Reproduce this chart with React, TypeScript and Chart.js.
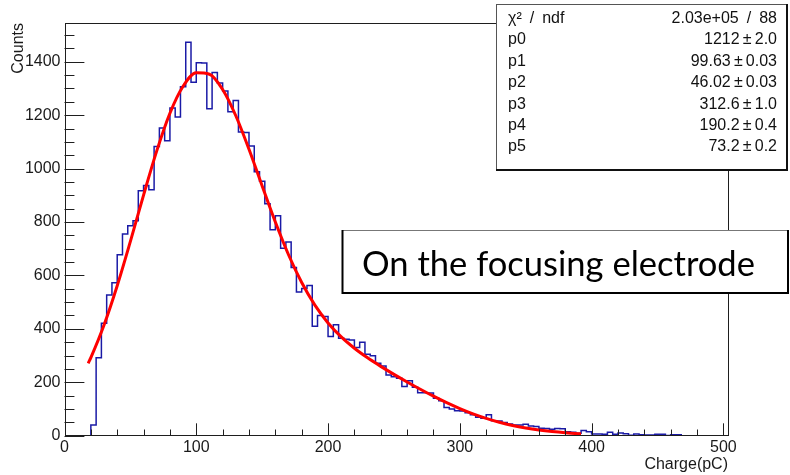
import { useEffect, useRef } from 'react';
import { Chart, registerables } from 'chart.js';

Chart.register(...registerables);

// Histogram binning: 4 pC wide bins, first filled bin starts at 20 pC
const BIN_START = 20;
const BIN_WIDTH = 4;

// Counts per bin
const counts = [
  40, 292, 421, 527, 573, 677, 755, 786, 805, 917,
  937, 921, 1083, 1152, 1104, 1227, 1193, 1306, 1473, 1323,
  1396, 1395, 1224, 1360, 1320, 1290, 1213, 1255, 1137, 1135,
  1085, 988, 953, 868, 771, 823, 702, 725, 630, 538,
  551, 562, 410, 450, 446, 371, 415, 365, 361, 358,
  330, 350, 305, 299, 271, 261, 227, 221, 215, 184,
  206, 181, 161, 161, 160, 140, 131, 106, 100, 93,
  92, 86, 78, 69, 65, 78, 56, 55, 49, 44,
  40, 40, 43, 36, 34, 28, 27, 24, 27, 26,
  15, 13, 9, 19, 15, 6, 6, 5, 13, 5,
  10, 7, 2, 6, 4, 3, 3, 5, 5, 1,
  4, 4,
];

// Fitted curve, sampled along the fit range
const fitX = [
  18, 20, 30, 40, 50, 60, 70, 80, 90, 100, 110, 120, 130, 140, 150, 160, 170, 180, 190, 200,
  210, 220, 230, 240, 250, 260, 270, 280, 290, 300, 310, 320, 330, 340, 350, 360, 370, 380, 390, 392,
];
const fitY = [
  271.0, 292.2, 414.4, 561.6, 727.5, 900.8, 1066.3, 1207.3, 1308.2, 1358.3, 1353.1, 1296.2, 1197.7, 1072.0, 934.7, 799.8, 677.4, 573.3, 488.8, 422.2,
  369.7, 327.4, 291.5, 259.6, 229.7, 201.2, 173.9, 147.9, 123.6, 101.6, 81.9, 64.9, 50.5, 38.5, 28.9, 21.2, 15.3, 10.8, 7.5, 7.0,
];

// Axis ranges, labelled ticks and minor tick spacing
const X_MIN = 0;
const X_MAX = 503.5;
const Y_MIN = 0;
const Y_MAX = 1545;
const xTickValues = [0, 100, 200, 300, 400, 500];
const yTickValues = [0, 200, 400, 600, 800, 1000, 1200, 1400];
const X_MINOR = 20;
const Y_MINOR = 50;

// Fit statistics panel
const statNames = ['χ² / ndf', 'p0', 'p1', 'p2', 'p3', 'p4', 'p5'];
const statValues = [
  '2.03e+05 / 88',
  '1212\u2009±\u20092.0',
  '99.63\u2009±\u20090.03',
  '46.02\u2009±\u20090.03',
  '312.6\u2009±\u20091.0',
  '190.2\u2009±\u20090.4',
  '73.2\u2009±\u20090.2',
];

const caption = 'On the focusing electrode';

const FONT = "'Liberation Sans', Arial, Helvetica, sans-serif";

// Draws text whose plain spaces are rendered with a wider gap
function drawSpaced(ctx: CanvasRenderingContext2D, text: string, x: number, y: number, align: 'left' | 'right', gap: number) {
  const words = text.split(' ');
  const widths = words.map((w) => ctx.measureText(w).width);
  const total = widths.reduce((s, w) => s + w, 0) + gap * (words.length - 1);
  let cx = align === 'left' ? x : x - total;
  ctx.textAlign = 'left';
  words.forEach((w, i) => {
    ctx.fillText(w, cx, y);
    cx += widths[i] + gap;
  });
}

const overlayPlugin = {
  id: 'rootFrame',
  afterDatasetsDraw(chart: any) {
    const { ctx, chartArea: a, scales } = chart;
    const xs = scales.x;
    const ys = scales.y;
    const fw = a.right - a.left;
    const fh = a.bottom - a.top;
    ctx.save();
    ctx.strokeStyle = '#1e1e1e';
    ctx.lineWidth = 1;
    ctx.beginPath();
    // inward ticks on the left axis (long ones at labelled values)
    for (let v = Y_MIN; v <= Y_MAX + 1e-6; v += Y_MINOR) {
      const py = Math.round(ys.getPixelForValue(v)) + 0.5;
      const len = yTickValues.includes(v) ? fw * 0.03 : fw * 0.015;
      ctx.moveTo(a.left, py);
      ctx.lineTo(a.left + len, py);
    }
    // inward ticks on the bottom axis
    for (let v = X_MIN; v <= X_MAX + 1e-6; v += X_MINOR) {
      const px = Math.round(xs.getPixelForValue(v)) + 0.5;
      const len = xTickValues.includes(v) ? fh * 0.03 : fh * 0.015;
      ctx.moveTo(px, a.bottom);
      ctx.lineTo(px, a.bottom - len);
    }
    ctx.stroke();
    // frame
    ctx.strokeRect(Math.round(a.left) + 0.5, Math.round(a.top) + 0.5, Math.round(fw) - 1, Math.round(fh) - 1);
    ctx.restore();
  },
  afterDraw(chart: any) {
    const { ctx } = chart;
    ctx.save();

    // statistics box
    const sx = 496, sy = 4, sw = 291, sh = 166;
    ctx.fillStyle = '#ffffff';
    ctx.fillRect(sx, sy, sw, sh);
    ctx.strokeStyle = '#555';
    ctx.lineWidth = 1;
    ctx.strokeRect(sx + 0.5, sy + 0.5, sw - 1, sh - 1);
    ctx.strokeStyle = '#111';
    ctx.lineWidth = 2;
    ctx.beginPath();
    ctx.moveTo(sx, sy + sh);
    ctx.lineTo(sx + sw, sy + sh);
    ctx.lineTo(sx + sw, sy);
    ctx.stroke();

    ctx.fillStyle = '#111';
    ctx.font = `16px ${FONT}`;
    ctx.textBaseline = 'middle';
    statNames.forEach((name, i) => {
      const cy = 18.5 + i * 21.4;
      drawSpaced(ctx, name, 508, cy, 'left', 8);
      drawSpaced(ctx, statValues[i], 777, cy, 'right', 8);
    });

    // caption box
    const bx = 342, by = 230, bw = 446, bh = 63;
    ctx.fillStyle = '#ffffff';
    ctx.fillRect(bx, by, bw, bh);
    ctx.strokeStyle = '#777';
    ctx.lineWidth = 1;
    ctx.strokeRect(bx + 0.5, by + 0.5, bw - 1, bh - 1);
    ctx.strokeStyle = '#000';
    ctx.lineWidth = 2;
    ctx.beginPath();
    ctx.moveTo(bx + 0.5, by);
    ctx.lineTo(bx + 0.5, by + bh);
    ctx.lineTo(bx + bw, by + bh);
    ctx.lineTo(bx + bw, by);
    ctx.stroke();

    ctx.fillStyle = '#000';
    ctx.textAlign = 'left';
    ctx.textBaseline = 'alphabetic';
    ctx.font = `30px Lato, 'Open Sans', sans-serif`;
    const w30 = ctx.measureText(caption).width;
    const size = (30 * 393) / w30;
    ctx.font = `${size.toFixed(2)}px Lato, 'Open Sans', sans-serif`;
    ctx.fillText(caption, 362, 275.5);

    ctx.restore();
  },
};

export default function App() {
  const canvasRef = useRef<HTMLCanvasElement | null>(null);

  useEffect(() => {
    const canvas = canvasRef.current;
    if (!canvas) return;

    const histPoints: { x: number; y: number }[] = [{ x: BIN_START, y: 0 }];
    counts.forEach((c, i) => histPoints.push({ x: BIN_START + i * BIN_WIDTH, y: c }));
    histPoints.push({ x: BIN_START + counts.length * BIN_WIDTH, y: 0 });

    const fitPoints = fitX.map((x, i) => ({ x, y: fitY[i] }));

    const chart = new Chart(canvas, {
      type: 'line',
      data: {
        datasets: [
          {
            label: 'fit',
            data: fitPoints,
            borderColor: '#ff0000',
            borderWidth: 3,
            pointRadius: 0,
            fill: false,
            cubicInterpolationMode: 'monotone',
          },
          {
            label: 'Charge',
            data: histPoints,
            borderColor: '#1a1aa6',
            borderWidth: 1.5,
            pointRadius: 0,
            fill: false,
            stepped: 'before',
            borderJoinStyle: 'miter',
          },
        ],
      },
      options: {
        animation: false,
        responsive: false,
        maintainAspectRatio: false,
        events: [],
        layout: { padding: { top: 23, right: 62, left: 0, bottom: 0 } },
        plugins: {
          legend: { display: false },
          tooltip: { enabled: false },
        },
        scales: {
          x: {
            type: 'linear',
            min: X_MIN,
            max: X_MAX,
            grid: { display: false, drawTicks: false },
            border: { display: false },
            afterBuildTicks: (scale: any) => {
              scale.ticks = xTickValues.map((value) => ({ value }));
            },
            ticks: {
              padding: 2,
              maxRotation: 0,
              autoSkip: false,
              color: '#1a1a1a',
              font: { family: FONT, size: 16 },
              callback: (v: any) => String(Math.round(Number(v))),
            },
            title: {
              display: true,
              text: 'Charge(pC)',
              align: 'end',
              color: '#1a1a1a',
              font: { family: FONT, size: 16 },
              padding: { top: 0, bottom: 1 },
            },
            afterFit: (scale: any) => {
              scale.height = 39.3;
            },
          },
          y: {
            type: 'linear',
            min: Y_MIN,
            max: Y_MAX,
            grid: { display: false, drawTicks: false },
            border: { display: false },
            afterBuildTicks: (scale: any) => {
              scale.ticks = yTickValues.map((value) => ({ value }));
            },
            ticks: {
              padding: 4,
              autoSkip: false,
              color: '#1a1a1a',
              font: { family: FONT, size: 16 },
              callback: (v: any) => String(Math.round(Number(v))),
            },
            title: {
              display: true,
              text: 'Counts',
              align: 'end',
              color: '#1a1a1a',
              font: { family: FONT, size: 16 },
              padding: { top: 9, bottom: 0 },
            },
            afterFit: (scale: any) => {
              scale.width = 64.5;
            },
          },
        },
      },
      plugins: [overlayPlugin],
    });

    return () => chart.destroy();
  }, []);

  return (
    <div style={{ position: 'fixed', left: 0, top: 0, width: 790, height: 475, background: '#fff' }}>
      <canvas ref={canvasRef} width={790} height={475} style={{ display: 'block' }} />
    </div>
  );
}
